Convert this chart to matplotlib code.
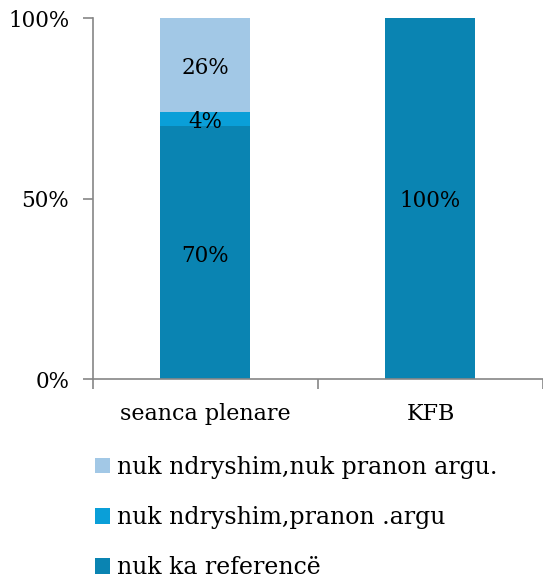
import matplotlib
matplotlib.use('Agg')
import matplotlib.pyplot as plt
from matplotlib.patches import Patch
import numpy as np

# Data
categories = ['seanca plenare', 'KFB']
nuk_ka_reference = [70, 100]
pranon_argu = [4, 0]
nuk_pranon_argu = [26, 0]
series_labels = ['nuk ndryshim,nuk pranon argu.', 'nuk ndryshim,pranon .argu', 'nuk ka referencë']
colors = ['#A2C8E6', '#0A9FD8', '#0A84B2']

plt.rcParams['font.family'] = ['DejaVu Serif']
fs = 15.5

fig = plt.figure(figsize=(5.43, 5.79), dpi=100)
ax = fig.add_axes([0.171, 0.3454, 0.829, 0.6235])

x = np.arange(len(categories))
w = 0.4
b1 = ax.bar(x, nuk_ka_reference, w, color=colors[2])
b2 = ax.bar(x, pranon_argu, w, bottom=nuk_ka_reference, color=colors[1])
bottom3 = np.array(nuk_ka_reference) + np.array(pranon_argu)
b3 = ax.bar(x, nuk_pranon_argu, w, bottom=bottom3, color=colors[0])

# segment labels (nudged down a bit, the original font has old-style figures)
for bars, vals, bots in [(b1, nuk_ka_reference, [0, 0]),
                         (b2, pranon_argu, nuk_ka_reference),
                         (b3, nuk_pranon_argu, bottom3)]:
    for rect, v, b in zip(bars, vals, bots):
        if v > 0:
            ax.text(rect.get_x() + rect.get_width() / 2, b + v / 2 - 0.8, f'{v}%',
                    ha='center', va='center', fontsize=fs, color='black')

ax.set_xlim(-0.5, 1.5)
ax.set_ylim(0, 100)
ax.set_yticks([0, 50, 100])
ax.set_yticklabels(['0%', '50%', '100%'], fontsize=fs)
ax.set_xticks(x)
ax.set_xticklabels(categories, fontsize=16)
ax.set_xticks([-0.5, 0.5, 1.5], minor=True)
ax.tick_params(axis='x', which='major', length=0, pad=17)
ax.tick_params(axis='x', which='minor', length=7, color='#868686', width=1.2)
ax.tick_params(axis='y', length=7, color='#868686', width=1.2, pad=10)

for s in ['top', 'right']:
    ax.spines[s].set_visible(False)
for s in ['left', 'bottom']:
    ax.spines[s].set_color('#868686')
    ax.spines[s].set_linewidth(1.2)

handles = [Patch(facecolor=c) for c in colors]
fig.legend(handles, series_labels, loc='upper left', bbox_to_anchor=(0.158, 0.229),
           frameon=False, fontsize=17, handlelength=0.64, handleheight=0.64,
           handletextpad=0.3, labelspacing=1.15, borderaxespad=0)

fig.savefig('out.png', dpi=100)
plt.close(fig)
